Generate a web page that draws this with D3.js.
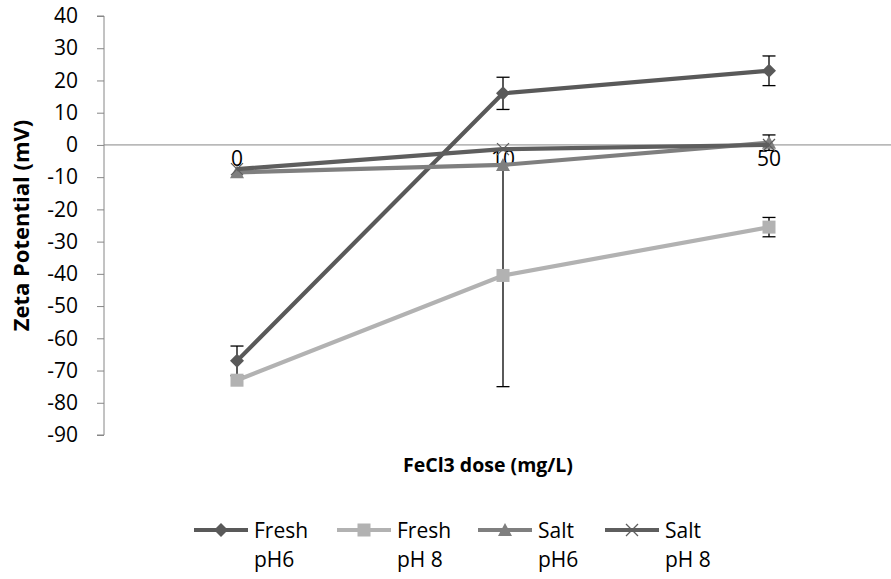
<!DOCTYPE html>
<html>
<head>
<meta charset="utf-8">
<script src="https://cdn.jsdelivr.net/npm/d3@7"></script>
<style>
  body { margin: 0; background: #fff; }
  text { font-family: "Open Sans", sans-serif; fill: #000; }
</style>
</head>
<body>
<div id="chart"></div>
<script>
// chart data
const doses = ["0", "10", "50"];
const seriesNames = ["Fresh pH6", "Fresh pH 8", "Salt pH6", "Salt pH 8"];
const freshPH6 = [-67, 16, 23];
const freshPH8 = [-73, -40.5, -25.5];
const saltPH6 = [-8.5, -6.2, 0.7];
const saltPH8 = [-7.5, -1.3, 0];
const freshPH6Err = [4.6, 5, 4.6];
const freshPH8Err = [0, 34.5, 3];
const saltPH6Err = [0, 0, 2.4];
const saltPH8Err = [0, 0, 0];
const yTicks = [40, 30, 20, 10, 0, -10, -20, -30, -40, -50, -60, -70, -80, -90];

const series = [
  {name: seriesNames[0], values: freshPH6, err: freshPH6Err, color: "#595959", marker: "diamond"},
  {name: seriesNames[1], values: freshPH8, err: freshPH8Err, color: "#b2b2b2", marker: "square"},
  {name: seriesNames[2], values: saltPH6, err: saltPH6Err, color: "#7f7f7f", marker: "triangle"},
  {name: seriesNames[3], values: saltPH8, err: saltPH8Err, color: "#5e5e5e", marker: "x"}
];

const W = 891, H = 579;
const svg = d3.select("#chart").append("svg")
  .attr("width", W).attr("height", H);

// scales
const x = d3.scaleBand().domain(doses).range([104, 902]);
const y = d3.scaleLinear().domain([-90, 40]).range([435, 16]);
const cx = d => x(d) + x.bandwidth() / 2;

// y axis
const yAxis = svg.append("g")
  .attr("transform", "translate(104,0)")
  .call(d3.axisLeft(y).tickValues(yTicks).tickSize(7).tickPadding(19).tickFormat(d => String(d)));
yAxis.select(".domain").attr("stroke", "#868686").attr("d", `M-7,${y(40)}H0V${y(-90)}H-7`);
yAxis.selectAll(".tick line").attr("stroke", "#868686");
yAxis.selectAll(".tick text").attr("font-size", 21).attr("font-family", "'Open Sans', sans-serif").attr("fill", "#000");

// zero line (category axis)
svg.append("line")
  .attr("x1", 104).attr("x2", 902)
  .attr("y1", y(0)).attr("y2", y(0))
  .attr("stroke", "#868686").attr("stroke-width", 1);

// category labels just below zero line
svg.selectAll(".xlab").data(doses).join("text")
  .attr("class", "xlab")
  .attr("x", d => cx(d)).attr("y", y(0) + 21)
  .attr("text-anchor", "middle").attr("font-size", 21)
  .text(d => d);

// axis titles
svg.append("text")
  .attr("transform", `translate(29,${(y(40) + y(-90)) / 2}) rotate(-90)`)
  .attr("text-anchor", "middle").attr("font-size", 22).attr("font-weight", "bold")
  .text("Zeta Potential (mV)");
svg.append("text")
  .attr("x", 488).attr("y", 472)
  .attr("text-anchor", "middle").attr("font-size", 19.5).attr("font-weight", "bold")
  .text("FeCl3 dose (mg/L)");

// error bars
series.forEach(s => {
  const g = svg.append("g");
  doses.forEach((d, i) => {
    const e = s.err[i];
    if (!e) return;
    const px = cx(d), top = y(s.values[i] + e), bot = y(s.values[i] - e);
    g.append("line").attr("x1", px).attr("x2", px).attr("y1", top).attr("y2", bot)
      .attr("stroke", "#000").attr("stroke-width", 1.3);
    [top, bot].forEach(v => g.append("line")
      .attr("x1", px - 6.5).attr("x2", px + 6.5).attr("y1", v).attr("y2", v)
      .attr("stroke", "#000").attr("stroke-width", 1.3));
  });
});

const line = d3.line().x((v, i) => cx(doses[i])).y(v => y(v));

function drawMarker(g, type, px, py, color) {
  if (type === "diamond") {
    g.append("path").attr("d", `M${px},${py - 7}L${px + 7},${py}L${px},${py + 7}L${px - 7},${py}Z`).attr("fill", color);
  } else if (type === "square") {
    g.append("rect").attr("x", px - 6.5).attr("y", py - 6.5).attr("width", 13).attr("height", 13).attr("fill", color);
  } else if (type === "triangle") {
    g.append("path").attr("d", `M${px},${py - 7}L${px + 7},${py + 6}L${px - 7},${py + 6}Z`).attr("fill", color);
  } else {
    g.append("path").attr("d", `M${px - 6},${py - 6}L${px + 6},${py + 6}M${px - 6},${py + 6}L${px + 6},${py - 6}`)
      .attr("stroke", color).attr("stroke-width", 1.3);
  }
}

// series lines and markers
series.forEach(s => {
  const g = svg.append("g");
  g.append("path").attr("d", line(s.values))
    .attr("fill", "none").attr("stroke", s.color).attr("stroke-width", 4.2);
  s.values.forEach((v, i) => drawMarker(g, s.marker, cx(doses[i]), y(v), s.color));
});

// legend
const legX = [194, 337, 478, 605];
series.forEach((s, i) => {
  const g = svg.append("g");
  const x0 = legX[i];
  g.append("line").attr("x1", x0).attr("x2", x0 + 54).attr("y1", 530).attr("y2", 530)
    .attr("stroke", s.color).attr("stroke-width", 4.2);
  drawMarker(g, s.marker, x0 + 27, 530, s.color);
  const parts = s.name.split(" ");
  const first = parts[0], rest = parts.slice(1).join(" ");
  g.append("text").attr("x", x0 + 60).attr("y", 538).attr("font-size", 21).text(first);
  g.append("text").attr("x", x0 + 60).attr("y", 567).attr("font-size", 21).text(rest);
});
</script>
</body>
</html>
